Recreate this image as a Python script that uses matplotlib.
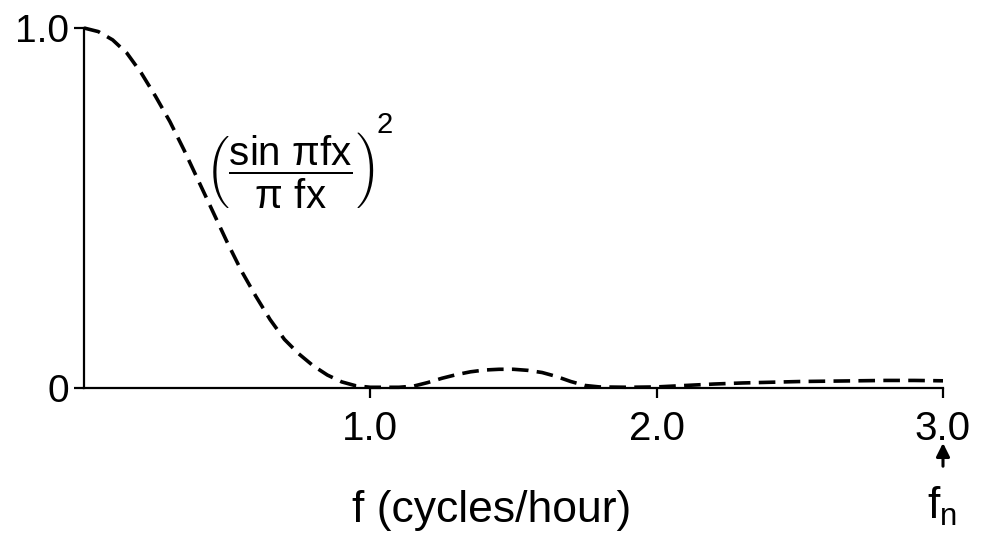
import numpy as np
import matplotlib
matplotlib.use("Agg")
import matplotlib.pyplot as plt

plt.rcParams['font.family'] = ['Liberation Sans', 'DejaVu Sans']
plt.rcParams['mathtext.fontset'] = 'custom'
plt.rcParams['mathtext.rm'] = 'Liberation Sans'
plt.rcParams['mathtext.it'] = 'Liberation Sans'
plt.rcParams['mathtext.sf'] = 'Liberation Sans'

# --- response of a 1-hour running mean ---
freq = [0.00, 0.05, 0.10, 0.15, 0.20, 0.25, 0.30, 0.35, 0.40, 0.45,
        0.50, 0.55, 0.60, 0.65, 0.70, 0.75, 0.80, 0.85, 0.90, 0.95,
        1.00, 1.10, 1.15, 1.20, 1.25, 1.30, 1.35, 1.40, 1.45, 1.50,
        1.55, 1.60, 1.65, 1.70, 1.75, 1.80, 1.90, 2.00, 2.10, 2.20,
        2.30, 2.40, 2.50, 2.60, 2.70, 2.80, 2.90, 3.00]
response = [1.000, 0.990, 0.967, 0.930, 0.875, 0.810, 0.740, 0.660, 0.575, 0.490,
            0.405, 0.325, 0.255, 0.190, 0.135, 0.095, 0.062, 0.036, 0.017, 0.006,
            0.002, 0.002, 0.005, 0.015, 0.027, 0.037, 0.045, 0.050, 0.052, 0.052,
            0.049, 0.043, 0.032, 0.018, 0.007, 0.003, 0.002, 0.003, 0.007, 0.011,
            0.014, 0.016, 0.018, 0.019, 0.020, 0.021, 0.021, 0.020]

xticks = [1.0, 2.0, 3.0]
xticklabels = ['1.0', '2.0', '3.0']
yticks = [0.0, 1.0]
yticklabels = ['0', '1.0']

fig = plt.figure(figsize=(9.82, 5.40), dpi=100)
ax = fig.add_axes([84 / 982, 1 - 388 / 540, (943 - 84) / 982, (388 - 28) / 540])

ax.plot(freq, response, color='black', lw=2.6, linestyle=(0, (4.6, 2.3)), clip_on=False)

ax.set_xlim(0, 3.0)
ax.set_ylim(0, 1.0)
for side in ['top', 'right']:
    ax.spines[side].set_visible(False)
for side in ['left', 'bottom']:
    ax.spines[side].set_linewidth(1.6)

ax.set_xticks(xticks)
ax.set_xticklabels(xticklabels)
ax.set_yticks(yticks)
ax.set_yticklabels(yticklabels)
ax.tick_params(axis='x', direction='out', length=7, width=1.6, pad=9, labelsize=29)
ax.tick_params(axis='y', direction='out', length=7, width=1.6, pad=4, labelsize=28)

ax.text(1.425, -0.34, 'f (cycles/hour)', fontsize=32, ha='center', va='center',
        transform=ax.transData, clip_on=False)

# Nyquist marker under the last tick
ax.annotate('', xy=(3.0, -0.145), xytext=(3.0, -0.225), xycoords='data',
            arrowprops=dict(arrowstyle='-|>', color='black', lw=2.2, mutation_scale=20),
            annotation_clip=False)
ax.text(2.995, -0.33, r'$\mathrm{f_n}$', fontsize=32, ha='center', va='center',
        transform=ax.transData, clip_on=False)

# sinc^2 label: bracketed fraction plus a raised exponent
ax.text(0.72, 0.605, r'$\left(\dfrac{\sin\,\pi f x}{\pi\ f x}\right)$', fontsize=29,
        ha='center', va='center', transform=ax.transData)
ax.text(1.05, 0.73, '2', fontsize=21, ha='center', va='center', transform=ax.transData)

fig.savefig('out.png', dpi=100)
